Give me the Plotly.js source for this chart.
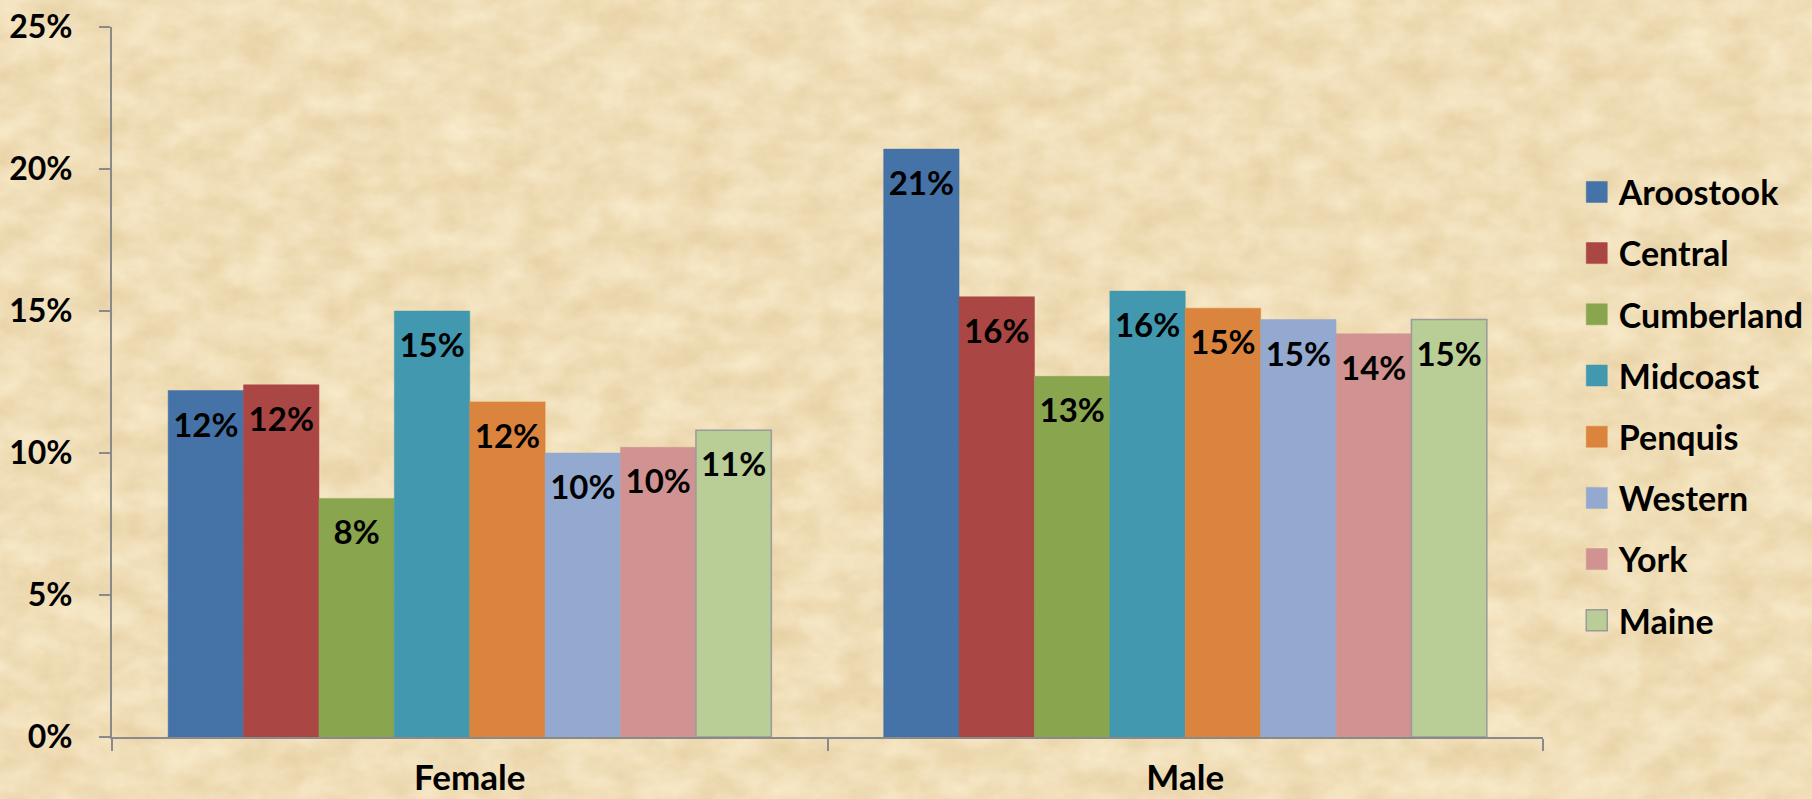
<!DOCTYPE html>
<html><head><meta charset="utf-8">
<script src="https://cdn.plot.ly/plotly-3.0.1.min.js"></script>
<style>
html,body{margin:0;padding:0;width:1812px;height:799px;overflow:hidden;background:#EEDCB6;}
#bg{position:absolute;left:0;top:0;}
#chart{position:absolute;left:0;top:0;width:1812px;height:799px;}
</style></head><body>
<svg id="bg" width="1812" height="799">
<filter id="parch" x="0" y="0" width="100%" height="100%" color-interpolation-filters="sRGB">
<feTurbulence type="fractalNoise" baseFrequency="0.025 0.035" numOctaves="5" seed="11" result="n"/>
<feColorMatrix type="matrix" values="0.08 0 0 0 0.90  0.12 0 0 0 0.81  0.18 0 0 0 0.63  0 0 0 0 1"/>
</filter>
<rect width="1812" height="799" filter="url(#parch)"/>
</svg>
<div id="chart"></div>
<script>
const categories = ['Female', 'Male'];
const regions = ['Aroostook', 'Central', 'Cumberland', 'Midcoast', 'Penquis', 'Western', 'York', 'Maine'];
const aroostook  = [12.2, 20.7];
const central    = [12.4, 15.5];
const cumberland = [8.4, 12.7];
const midcoast   = [15.0, 15.7];
const penquis    = [11.8, 15.1];
const western    = [10.0, 14.7];
const york       = [10.2, 14.2];
const maine      = [10.8, 14.7];
const yTicks = [0, 5, 10, 15, 20, 25];

const seriesValues = [aroostook, central, cumberland, midcoast, penquis, western, york, maine];
const colors = ['#4572A7', '#AA4643', '#89A54E', '#4198AF', '#DB843D', '#93A9CF', '#D19392', '#B9CD96'];
const lineColors = ['#4572A7', '#AA4643', '#89A54E', '#4198AF', '#DB843D', '#93A9CF', '#D19392', '#9A9A9A'];

const FONT = 'Lato, "Open Sans", sans-serif';

const traces = regions.map((name, i) => ({
  type: 'bar',
  name: name,
  x: categories,
  y: seriesValues[i],
  legendgroup: 'g' + i,
  marker: {color: colors[i], line: {color: lineColors[i], width: i === 7 ? 1.5 : 0.5}},
  texttemplate: '%{y:.0f}%',
  textposition: 'inside',
  insidetextanchor: 'end',
  constraintext: 'none',
  textangle: 0,
  textfont: {family: FONT, size: 33, color: '#000', weight: 700},
  hoverinfo: 'x+y+name'
}));

const layout = {
  width: 1812, height: 799,
  paper_bgcolor: 'rgba(0,0,0,0)',
  plot_bgcolor: 'rgba(0,0,0,0)',
  margin: {l: 112, r: 269, t: 27, b: 62, pad: 0, autoexpand: false},
  barmode: 'group',
  bargap: 0.157,
  bargroupgap: 0,
  font: {family: FONT, size: 33, color: '#000', weight: 700},
  xaxis: {
    type: 'category',
    showline: true, linecolor: '#8A8A8A', linewidth: 2,
    ticks: 'outside', tickson: 'boundaries', ticklen: 12, tickwidth: 2, tickcolor: '#8A8A8A',
    ticklabelstandoff: 9,
    tickfont: {family: FONT, size: 35, color: '#000', weight: 700},
    showgrid: false, zeroline: false
  },
  yaxis: {
    range: [0, 25],
    tickvals: yTicks,
    ticktext: yTicks.map(v => v + '%'),
    showline: true, linecolor: '#8A8A8A', linewidth: 2,
    ticks: 'outside', ticklen: 11, tickwidth: 2, tickcolor: '#8A8A8A',
    ticklabelstandoff: 20,
    tickfont: {family: FONT, size: 32, color: '#000', weight: 700},
    showgrid: false, zeroline: false
  },
  showlegend: true,
  legend: {
    x: 1.025, xanchor: 'left',
    y: 0.808, yanchor: 'top',
    bgcolor: 'rgba(0,0,0,0)',
    font: {family: FONT, size: 34, color: '#000', weight: 700},
    tracegroupgap: 14,
    traceorder: 'grouped'
  }
};

Plotly.newPlot('chart', traces, layout, {displayModeBar: false, staticPlot: true}).then(() => {
  document.querySelectorAll('.legend .legendpoints path').forEach(p => {
    p.removeAttribute('transform');
    p.setAttribute('d', 'M28.5,10.5H7.5V-10.5H28.5Z');
  });
  document.querySelectorAll('.bars .point text').forEach(t => {
    const tr = t.getAttribute('transform') || '';
    t.setAttribute('transform', 'translate(0,10) ' + tr);
  });
});
</script>
</body></html>
